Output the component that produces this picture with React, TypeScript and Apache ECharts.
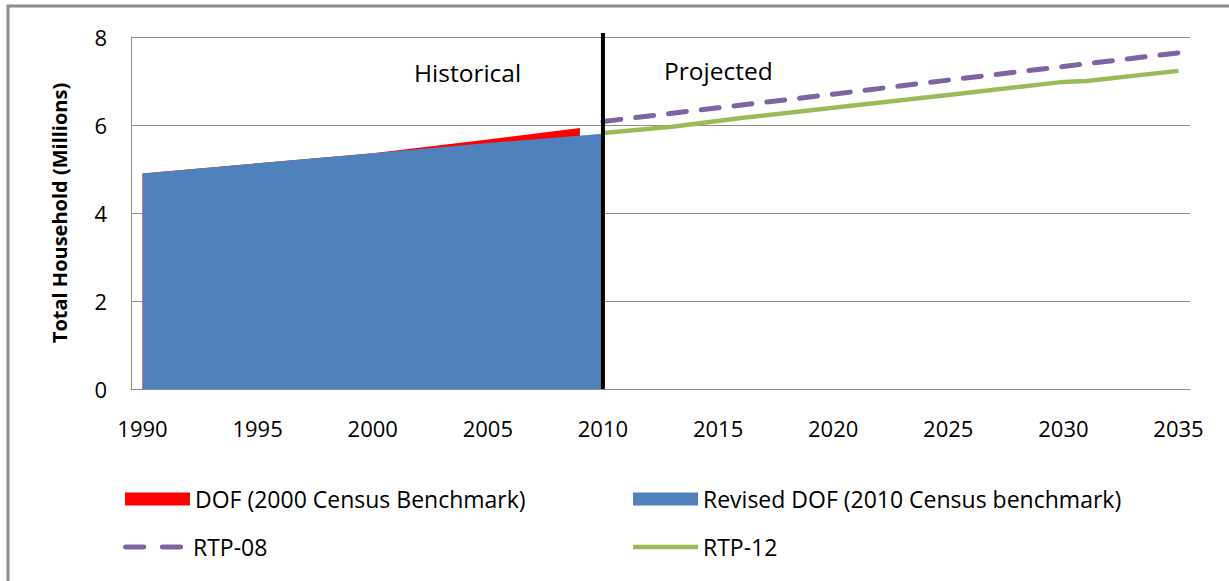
import React, { useEffect, useRef } from "react";
import * as echarts from "echarts";

const years: string[] = [];
for (let y = 1990; y <= 2035; y++) years.push(String(y));

const yTicks = [0, 2, 4, 6, 8];
const DIVIDER_YEAR = "2010";

// [year, households (millions)]
const dofOld: [string, number][] = [
  ["1990", 4.9], ["1995", 5.13], ["2000", 5.36], ["2005", 5.67], ["2009", 5.93],
];
const dofRevised: [string, number][] = [
  ["1990", 4.9], ["1995", 5.13], ["2000", 5.36], ["2005", 5.59], ["2010", 5.8],
];
const rtp08: [string, number][] = [
  ["2010", 6.08], ["2015", 6.39], ["2020", 6.7], ["2025", 7.02], ["2030", 7.33], ["2035", 7.64],
];
const rtp12: [string, number][] = [
  ["2010", 5.82], ["2013", 5.96], ["2016", 6.16], ["2020", 6.39], ["2025", 6.68], ["2030", 6.98], ["2031", 7.0], ["2035", 7.23],
];

const FONT = "Open Sans";

const legendText = { fontSize: 23, fontFamily: FONT, color: "#000", lineHeight: 26 };

function legendBox(left: number, top: number, name: string, icon: string, h: number) {
  return {
    left, top, orient: "horizontal", itemWidth: 65, itemHeight: h, padding: 0,
    textStyle: legendText,
    data: [{ name, icon }],
  };
}

export default function App() {
  const ref = useRef<HTMLDivElement>(null);
  useEffect(() => {
    const chart = echarts.init(ref.current!, null, { renderer: "svg" });
    chart.setOption({
      animation: false,
      backgroundColor: "#fff",
      grid: { left: 131, right: 39, top: 37, bottom: 192, containLabel: false },
      xAxis: {
        type: "category",
        data: years,
        boundaryGap: true,
        axisLine: { show: true, lineStyle: { color: "#8c8c8c", width: 1 } },
        axisTick: { show: false },
        axisLabel: { interval: 4, color: "#000", fontSize: 22, fontFamily: FONT, margin: 28 },
        splitLine: { show: false },
      },
      yAxis: {
        type: "value",
        min: 0,
        max: 8,
        interval: 2,
        name: "Total Household (Millions)",
        nameLocation: "middle",
        nameGap: 62,
        nameTextStyle: { fontSize: 20, fontWeight: "bold", color: "#000", fontFamily: FONT },
        axisLine: { show: true, lineStyle: { color: "#8c8c8c", width: 1 } },
        axisTick: { show: false },
        axisLabel: { color: "#000", fontSize: 22, fontFamily: FONT, margin: 24,
          formatter: (v: number) => (yTicks.includes(v) ? String(v) : "") },
        splitLine: { show: true, lineStyle: { color: "#8c8c8c", width: 1 } },
      },
      legend: [
        legendBox(125, 486, "DOF (2000 Census Benchmark)", "rect", 13),
        legendBox(633, 486, "Revised DOF (2010 Census benchmark)", "rect", 13),
        legendBox(123, 534, "RTP-08", "path://M2.5,0H21.5A2.5,2.5,0,0,1,21.5,5H2.5A2.5,2.5,0,0,1,2.5,0Z M40.5,0H59.5A2.5,2.5,0,0,1,59.5,5H40.5A2.5,2.5,0,0,1,40.5,0Z M67,0V5Z", 5),
        legendBox(633, 534, "RTP-12", "path://M0,0H67V4.5H0Z", 4.5),
      ],
      series: [
        {
          name: "DOF (2000 Census Benchmark)",
          type: "line",
          data: dofOld,
          symbol: "none",
          lineStyle: { width: 0, color: "#ff0000" },
          itemStyle: { color: "#ff0000" },
          areaStyle: { color: "#ff0000", opacity: 1 },
          z: 1,
        },
        {
          name: "Revised DOF (2010 Census benchmark)",
          type: "line",
          data: dofRevised,
          symbol: "none",
          lineStyle: { width: 0, color: "#4f81bd" },
          itemStyle: { color: "#4f81bd" },
          areaStyle: { color: "#4f81bd", opacity: 1 },
          z: 2,
        },
        {
          name: "RTP-08",
          type: "line",
          data: rtp08,
          symbol: "none",
          lineStyle: { width: 5, color: "#8064a2", type: [18, 15], cap: "round" },
          itemStyle: { color: "#8064a2" },
          z: 3,
        },
        {
          name: "RTP-12",
          type: "line",
          data: rtp12,
          symbol: "none",
          lineStyle: { width: 4.5, color: "#9bbb59" },
          itemStyle: { color: "#9bbb59" },
          z: 4,
        },
      ],
      graphic: [
        {
          type: "rect",
          shape: { x: 8, y: 6, width: 1400, height: 800 },
          style: { fill: "none", stroke: "#8c8c8c", lineWidth: 3 },
          silent: true,
          z: -10,
        },
        {
          type: "text", left: 414, top: 60,
          style: { text: "Historical", fontSize: 24.5, fontFamily: FONT, fill: "#000" },
        },
        {
          type: "text", left: 664, top: 58,
          style: { text: "Projected", fontSize: 24.5, fontFamily: FONT, fill: "#000" },
        },
      ],
    });
    const p0 = chart.convertToPixel({ gridIndex: 0 }, [DIVIDER_YEAR, 0]) as number[];
    const p1 = chart.convertToPixel({ gridIndex: 0 }, [DIVIDER_YEAR, 8]) as number[];
    chart.setOption({
      graphic: [
        {
          id: "divider",
          type: "line",
          shape: { x1: p0[0], y1: p0[1], x2: p1[0], y2: p1[1] - 4 },
          style: { stroke: "#000", lineWidth: 4 },
          silent: true,
          z: 100,
        },
      ],
    });
    return () => chart.dispose();
  }, []);
  return <div ref={ref} style={{ width: 1229, height: 581, position: "absolute", left: 0, top: 0 }} />;
}
